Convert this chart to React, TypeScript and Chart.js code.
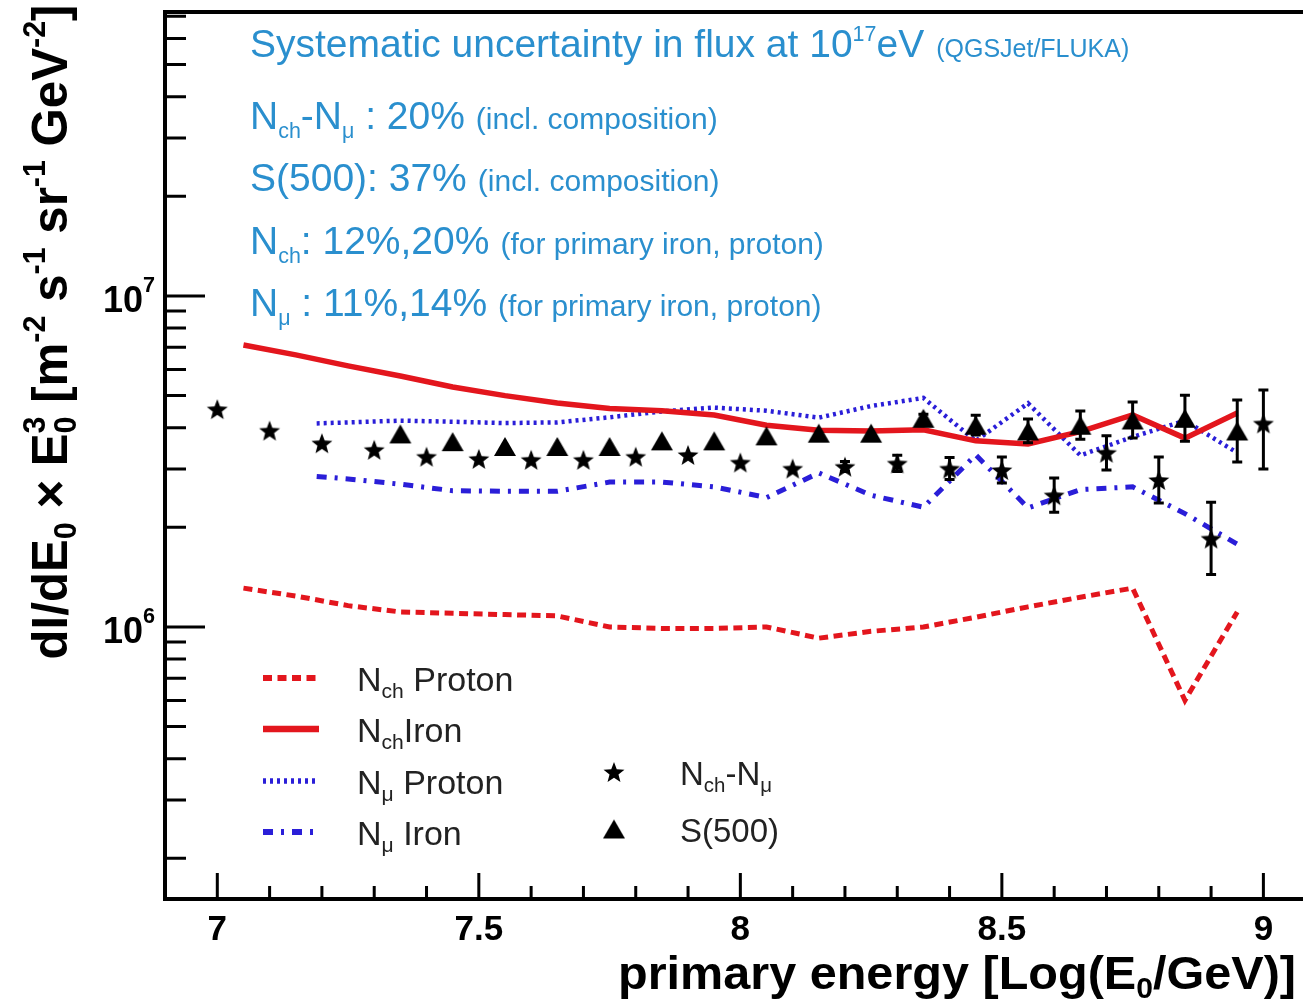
import React, { useEffect, useRef } from "react";
import { Chart, registerables } from "chart.js";

Chart.register(...registerables);

// ---- reconstructed flux (dI/dE0 x E0^3), energies in log10(E0/GeV) ----

// N_ch - N_mu method (stars)
const nchNmuEnergy = [7.0, 7.1, 7.2, 7.3, 7.4, 7.5, 7.6, 7.7, 7.8, 7.9, 8.0, 8.1, 8.2, 8.3, 8.4, 8.5, 8.6, 8.7, 8.8, 8.9, 9.0];
const nchNmuFlux = [4.55e6, 3.92e6, 3.59e6, 3.43e6, 3.27e6, 3.22e6, 3.2e6, 3.2e6, 3.27e6, 3.31e6, 3.14e6, 3.01e6, 3.05e6, 3.12e6, 3.01e6, 2.98e6, 2.5e6, 3.36e6, 2.78e6, 1.85e6, 4.12e6];
const nchNmuLow = [null, null, null, null, null, null, null, null, null, null, null, null, 2.95e6, 2.95e6, 2.79e6, 2.72e6, 2.22e6, 2.98e6, 2.37e6, 1.44e6, 3.0e6];
const nchNmuHigh = [null, null, null, null, null, null, null, null, null, null, null, null, 3.16e6, 3.3e6, 3.25e6, 3.26e6, 2.82e6, 3.78e6, 3.26e6, 2.38e6, 5.2e6];

// S(500) method (triangles)
const s500Energy = [7.35, 7.45, 7.55, 7.65, 7.75, 7.85, 7.95, 8.05, 8.15, 8.25, 8.35, 8.45, 8.55, 8.65, 8.75, 8.85, 8.95];
const s500Flux = [3.83e6, 3.63e6, 3.51e6, 3.51e6, 3.51e6, 3.65e6, 3.65e6, 3.78e6, 3.85e6, 3.85e6, 4.27e6, 4.07e6, 3.91e6, 4.07e6, 4.22e6, 4.27e6, 3.91e6];
const s500Low = [null, null, null, null, null, null, null, null, null, null, 4.15e6, 3.8e6, 3.6e6, 3.69e6, 3.72e6, 3.64e6, 3.15e6];
const s500High = [null, null, null, null, null, null, null, null, null, null, 4.39e6, 4.36e6, 4.25e6, 4.49e6, 4.78e6, 5.01e6, 4.85e6];

// N_ch spectra assuming pure proton / iron primaries
const nchBinCenters = [7.05, 7.15, 7.25, 7.35, 7.45, 7.55, 7.65, 7.75, 7.85, 7.95, 8.05, 8.15, 8.25, 8.35, 8.45, 8.55, 8.65, 8.75, 8.85, 8.95];
const nchProtonFlux = [1.31e6, 1.24e6, 1.16e6, 1.11e6, 1.1e6, 1.09e6, 1.08e6, 1.0e6, 0.99e6, 0.99e6, 1.0e6, 0.925e6, 0.97e6, 1.0e6, 1.07e6, 1.15e6, 1.23e6, 1.31e6, 0.6e6, 1.11e6];
const nchIronFlux = [7.11e6, 6.64e6, 6.15e6, 5.73e6, 5.31e6, 5.0e6, 4.75e6, 4.57e6, 4.5e6, 4.37e6, 4.07e6, 3.93e6, 3.91e6, 3.94e6, 3.65e6, 3.57e6, 3.89e6, 4.37e6, 3.72e6, 4.43e6];

// N_mu spectra assuming pure proton / iron primaries
const nmuBinCenters = [7.19, 7.25, 7.35, 7.45, 7.55, 7.65, 7.75, 7.85, 7.95, 8.05, 8.15, 8.25, 8.35, 8.45, 8.55, 8.65, 8.75, 8.85, 8.95];
const nmuProtonFlux = [4.12e6, 4.15e6, 4.2e6, 4.17e6, 4.13e6, 4.15e6, 4.3e6, 4.48e6, 4.6e6, 4.5e6, 4.29e6, 4.65e6, 4.92e6, 3.65e6, 4.74e6, 3.3e6, 3.75e6, 4.2e6, 3.36e6];
const nmuIronFlux = [2.85e6, 2.8e6, 2.7e6, 2.58e6, 2.57e6, 2.57e6, 2.74e6, 2.74e6, 2.65e6, 2.46e6, 2.92e6, 2.5e6, 2.3e6, 3.31e6, 2.29e6, 2.6e6, 2.65e6, 2.2e6, 1.78e6];

// axis ticks and labels
const xTickValues = [7, 7.5, 8, 8.5, 9];
const xTickLabels = ["7", "7.5", "8", "8.5", "9"];
const yTickValues = [1e6, 1e7];
const yTickLabels = ["10^{6}", "10^{7}"];

// series names (rich text: _{} subscript, ^{} superscript)
const lineSeriesNames = ["N_{ch} Proton", "N_{ch}Iron", "N_{μ} Proton", "N_{μ} Iron"];
const markerSeriesNames = ["N_{ch}-N_{μ}", "S(500)"];

// systematic uncertainty notes: [main text, small remark]
const noteLines = [
  ["Systematic uncertainty in flux at 10^{17}eV", "(QGSJet/FLUKA)"],
  ["N_{ch}-N_{μ} : 20%", "(incl. composition)"],
  ["S(500): 37%", "(incl. composition)"],
  ["N_{ch}: 12%,20%", "(for primary iron, proton)"],
  ["N_{μ} : 11%,14%", "(for primary iron, proton)"],
];

const xTitle = "primary energy [Log(E_{0}/GeV)]";
const yTitle = "dI/dE_{0} × E_{0}^{3} [m^{-2} s^{-1} sr^{-1} GeV^{-2}]";

// ---- styling ----
const FONT = "'Liberation Sans', Arial, Helvetica, sans-serif";
const RED = "#e3161d";
const BLUE = "#2a1ed8";
const NOTE_BLUE = "#2a8fce";

const lineStyles = [
  { color: RED, width: 5, dash: [9, 5.5] },
  { color: RED, width: 5.5, dash: [] as number[] },
  { color: BLUE, width: 4.5, dash: [3, 4] },
  { color: BLUE, width: 5, dash: [10, 8, 3, 8] },
];

type Run = { text: string; mode: "n" | "sub" | "sup" };

function parseRich(src: string): Run[] {
  const runs: Run[] = [];
  let buf = "";
  let i = 0;
  while (i < src.length) {
    const c = src[i];
    if ((c === "_" || c === "^") && src[i + 1] === "{") {
      if (buf) {
        runs.push({ text: buf, mode: "n" });
        buf = "";
      }
      const end = src.indexOf("}", i + 2);
      runs.push({ text: src.slice(i + 2, end), mode: c === "_" ? "sub" : "sup" });
      i = end + 1;
    } else {
      buf += c;
      i++;
    }
  }
  if (buf) runs.push({ text: buf, mode: "n" });
  return runs;
}

interface RichOpts {
  weight?: string;
  color?: string;
  align?: "left" | "center" | "right";
  fit?: number;
  small?: number;
  subDrop?: number;
  supRise?: number;
}

function drawRich(ctx: CanvasRenderingContext2D, src: string, x: number, y: number, size: number, o: RichOpts = {}) {
  const weight = o.weight ?? "normal";
  const small = size * (o.small ?? 0.6);
  const rise = size * (o.supRise ?? 0.42);
  const drop = size * (o.subDrop ?? 0.2);
  const runs = parseRich(src);
  const items: { text: string; x: number; dy: number; sz: number }[] = [];
  let w = 0;
  for (let k = 0; k < runs.length; k++) {
    const r = runs[k];
    if (r.mode === "n") {
      ctx.font = `${weight} ${size}px ${FONT}`;
      items.push({ text: r.text, x: w, dy: 0, sz: size });
      w += ctx.measureText(r.text).width;
    } else {
      ctx.font = `${weight} ${small}px ${FONT}`;
      const rw = ctx.measureText(r.text).width;
      items.push({ text: r.text, x: w, dy: r.mode === "sub" ? drop : -rise, sz: small });
      const nx = runs[k + 1];
      if (r.mode === "sub" && nx && nx.mode === "sup") {
        const nw = ctx.measureText(nx.text).width;
        items.push({ text: nx.text, x: w, dy: -rise, sz: small });
        w += Math.max(rw, nw);
        k++;
      } else {
        w += rw;
      }
    }
  }
  const sx = o.fit ? o.fit / w : 1;
  const total = w * sx;
  const x0 = o.align === "right" ? x - total : o.align === "center" ? x - total / 2 : x;
  ctx.save();
  ctx.translate(x0, y);
  ctx.scale(sx, 1);
  ctx.fillStyle = o.color ?? "#000";
  ctx.textAlign = "left";
  ctx.textBaseline = "alphabetic";
  for (const it of items) {
    ctx.font = `${weight} ${it.sz}px ${FONT}`;
    ctx.fillText(it.text, it.x, it.dy);
  }
  ctx.restore();
  return total;
}

function makeStar(R: number, r: number) {
  const size = Math.ceil(2 * R + 2);
  const c = document.createElement("canvas");
  c.width = size;
  c.height = size;
  const g = c.getContext("2d")!;
  g.fillStyle = "#000";
  g.beginPath();
  for (let k = 0; k < 10; k++) {
    const rad = k % 2 === 0 ? R : r;
    const a = -Math.PI / 2 + (k * Math.PI) / 5;
    const px = size / 2 + rad * Math.cos(a);
    const py = size / 2 + 0.1 * R + rad * Math.sin(a);
    if (k === 0) g.moveTo(px, py);
    else g.lineTo(px, py);
  }
  g.closePath();
  g.fill();
  return c;
}

function makeTriangle(w: number, h: number) {
  const c = document.createElement("canvas");
  c.width = w + 2;
  c.height = h + 2;
  const g = c.getContext("2d")!;
  g.fillStyle = "#000";
  g.beginPath();
  g.moveTo(1 + w / 2, 1);
  g.lineTo(1 + w, 1 + h);
  g.lineTo(1, 1 + h);
  g.closePath();
  g.fill();
  return c;
}

const toPoints = (xs: number[], ys: number[]) => xs.map((x, i) => ({ x, y: ys[i] }));

export default function App() {
  const canvasRef = useRef<HTMLCanvasElement | null>(null);

  useEffect(() => {
    const canvas = canvasRef.current;
    if (!canvas) return;
    const star = makeStar(11, 4.7);
    const tri = makeTriangle(22, 19);

    const errorBars = {
      id: "errorBars",
      afterDatasetsDraw(chart: any) {
        const { ctx } = chart;
        const xs = chart.scales.x;
        const ys = chart.scales.y;
        ctx.save();
        ctx.strokeStyle = "#000";
        ctx.lineWidth = 3;
        chart.data.datasets.forEach((ds: any) => {
          if (!ds.errLow) return;
          ds.data.forEach((p: any, i: number) => {
            const lo = ds.errLow[i];
            const hi = ds.errHigh[i];
            if (lo == null || hi == null) return;
            const px = xs.getPixelForValue(p.x);
            const y1 = ys.getPixelForValue(lo);
            const y2 = ys.getPixelForValue(hi);
            ctx.beginPath();
            ctx.moveTo(px, y1);
            ctx.lineTo(px, y2);
            ctx.moveTo(px - 5, y1);
            ctx.lineTo(px + 5, y1);
            ctx.moveTo(px - 5, y2);
            ctx.lineTo(px + 5, y2);
            ctx.stroke();
          });
        });
        ctx.restore();
      },
    };

    const frameAndText = {
      id: "frameAndText",
      afterDraw(chart: any) {
        const { ctx, chartArea: a } = chart;
        const xs = chart.scales.x;
        const ys = chart.scales.y;
        ctx.save();

        // frame
        ctx.strokeStyle = "#000";
        ctx.lineWidth = 4;
        ctx.strokeRect(a.left, a.top, a.right - a.left, a.bottom - a.top);

        // inward ticks
        ctx.lineWidth = 3;
        ctx.beginPath();
        for (let k = Math.ceil(xs.min * 10); k <= Math.floor(xs.max * 10); k++) {
          const px = xs.getPixelForValue(k / 10);
          const len = k % 5 === 0 ? 26 : 13;
          ctx.moveTo(px, a.bottom);
          ctx.lineTo(px, a.bottom - len);
        }
        for (let e = 5; e <= 7; e++) {
          for (let m = 1; m <= 9; m++) {
            const v = m * Math.pow(10, e);
            if (v < ys.min || v > ys.max) continue;
            const py = ys.getPixelForValue(v);
            const len = m === 1 ? 40 : 21;
            ctx.moveTo(a.left, py);
            ctx.lineTo(a.left + len, py);
          }
        }
        ctx.stroke();

        // tick labels
        xTickValues.forEach((v, i) => {
          drawRich(ctx, xTickLabels[i], xs.getPixelForValue(v), 940, 35, { weight: "bold", align: "center" });
        });
        yTickValues.forEach((v, i) => {
          drawRich(ctx, yTickLabels[i], 155, ys.getPixelForValue(v) + 16, 36, {
            weight: "bold",
            align: "right",
            supRise: 0.55,
            small: 0.6,
          });
        });

        // axis titles
        drawRich(ctx, xTitle, 1296, 989, 47, { weight: "bold", align: "right", fit: 678, small: 0.62 });
        ctx.save();
        ctx.translate(67, 332);
        ctx.rotate(-Math.PI / 2);
        drawRich(ctx, yTitle, 0, 0, 50, { weight: "bold", align: "center", fit: 655, small: 0.62, subDrop: 0.18, supRise: 0.45 });
        ctx.restore();

        // uncertainty notes
        const baselines = [57, 129, 191, 254, 316];
        noteLines.forEach(([main, remark], i) => {
          const w = drawRich(ctx, main, 250, baselines[i], 39, { color: NOTE_BLUE, small: 0.55, subDrop: 0.22 });
          const gap = i === 0 ? 12 : 11;
          drawRich(ctx, remark, 250 + w + gap, baselines[i], i === 0 ? 25 : 30, { color: NOTE_BLUE });
        });

        // legend: model lines
        const legendBase = [691, 742, 794, 845];
        lineSeriesNames.forEach((name, i) => {
          const st = lineStyles[i];
          const ly = legendBase[i] - 13;
          ctx.save();
          ctx.strokeStyle = st.color;
          ctx.lineWidth = st.width + 1;
          ctx.setLineDash(st.dash);
          ctx.beginPath();
          ctx.moveTo(263, ly);
          ctx.lineTo(319, ly);
          ctx.stroke();
          ctx.restore();
          drawRich(ctx, name, 357, legendBase[i], 34, { color: "#222", small: 0.62, subDrop: 0.22 });
        });

        // legend: measured points
        const markBase = [785, 842];
        const marks = [star, tri];
        markerSeriesNames.forEach((name, i) => {
          const img = marks[i];
          const my = markBase[i] - 13;
          ctx.drawImage(img, 614 - img.width / 2, my - img.height / 2);
          drawRich(ctx, name, 680, markBase[i], 33, { color: "#222", small: 0.62, subDrop: 0.22 });
        });

        ctx.restore();
      },
    };

    const lineData = [
      toPoints(nchBinCenters, nchProtonFlux),
      toPoints(nchBinCenters, nchIronFlux),
      toPoints(nmuBinCenters, nmuProtonFlux),
      toPoints(nmuBinCenters, nmuIronFlux),
    ];

    const chart = new Chart(canvas, {
      type: "scatter",
      data: {
        datasets: [
          {
            label: markerSeriesNames[0],
            data: toPoints(nchNmuEnergy, nchNmuFlux),
            pointStyle: star,
            pointRadius: 10,
            backgroundColor: "#000",
            borderColor: "#000",
            order: 0,
            errLow: nchNmuLow,
            errHigh: nchNmuHigh,
          } as any,
          {
            label: markerSeriesNames[1],
            data: toPoints(s500Energy, s500Flux),
            pointStyle: tri,
            pointRadius: 10,
            backgroundColor: "#000",
            borderColor: "#000",
            order: 0,
            errLow: s500Low,
            errHigh: s500High,
          } as any,
          ...lineData.map((d, i) => ({
            label: lineSeriesNames[i],
            data: d,
            showLine: true,
            pointRadius: 0,
            borderColor: lineStyles[i].color,
            borderWidth: lineStyles[i].width,
            borderDash: lineStyles[i].dash,
            borderCapStyle: "butt" as const,
            tension: 0,
            fill: false,
            order: 1,
          })),
        ],
      },
      options: {
        responsive: false,
        animation: false,
        devicePixelRatio: 1,
        events: [],
        layout: { padding: { left: 165, top: 12, right: 32, bottom: 101 } },
        plugins: {
          legend: { display: false },
          tooltip: { enabled: false },
          title: { display: false },
        },
        scales: {
          x: { type: "linear", min: 6.9, max: 9.2, display: false },
          y: { type: "logarithmic", min: 1.507e5, max: 7.21e7, display: false },
        },
      },
      plugins: [errorBars, frameAndText],
    });

    return () => chart.destroy();
  }, []);

  return (
    <div
      style={{
        position: "fixed",
        left: 0,
        top: 0,
        width: 1303,
        height: 1000,
        overflow: "hidden",
        background: "#fff",
      }}
    >
      <canvas ref={canvasRef} width={1400} height={1000} style={{ display: "block", width: 1400, height: 1000 }} />
    </div>
  );
}
